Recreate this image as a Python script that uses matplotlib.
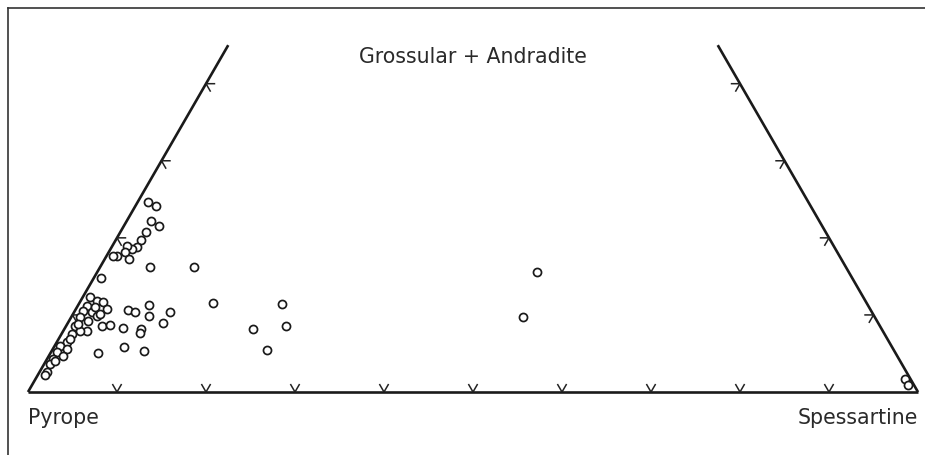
import numpy as np
import matplotlib
matplotlib.use("Agg")
import matplotlib.pyplot as plt

# garnet compositions, mol % (Grossular+Andradite, Spessartine); Pyrope = rest
grs_adr = [24.6, 24.1, 22.2, 21.5, 20.8, 19.7, 18.8, 18.6, 18.9, 18.2,
           17.3, 17.6, 17.6, 16.2, 16.2, 14.8, 12.3, 11.8, 11.7, 11.2,
           10.8, 10.5, 10.4, 9.9, 9.7, 9.2, 8.6, 8.7, 8.6, 7.9,
           7.9, 7.5, 6.5, 6.0, 5.6, 5.2, 4.7, 4.3, 3.6, 2.6,
           2.2, 10.6, 10.4, 11.3, 9.9, 10.4, 9.0, 8.3, 8.2, 7.7,
           11.6, 11.4, 8.6, 8.2, 5.5, 5.8, 5.3, 5.1, 15.6, 9.7,
           1.7, 0.9, 8.8, 11.0, 10.1, 6.9, 4.0]
spess = [1.2, 2.3, 2.7, 4.0, 2.9, 2.9, 2.8, 2.4, 1.7, 1.8,
         2.7, 1.2, 0.8, 5.6, 10.6, 0.8, 0.8, 1.9, 2.6, 1.0,
         3.5, 0.9, 2.0, 2.8, 1.0, 2.1, 4.0, 4.9, 1.0, 2.7,
         1.9, 1.2, 1.1, 0.6, 1.6, 0.7, 1.6, 0.7, 0.7, 0.8,
         0.8, 5.9, 6.8, 8.0, 8.6, 10.8, 10.7, 6.5, 8.6, 8.7,
         15.0, 22.8, 24.7, 21.2, 24.1, 7.9, 10.4, 5.3, 49.4, 50.8,
         97.7, 98.4, 1.2, 2.0, 3.0, 1.3, 1.0]

tick_values = [10, 20, 30, 40, 50, 60, 70, 80, 90]
side_ticks = [10, 20, 30, 40]
g_max = 45  # top of the truncated triangle

end_labels = ["Pyrope", "Spessartine"]
top_label = "Grossular + Andradite"

h = np.sqrt(3) / 2


def to_xy(g, s):
    g = np.asarray(g) / 100.0
    s = np.asarray(s) / 100.0
    return s + g / 2, g * h


fig = plt.figure(figsize=(9.25, 4.56), dpi=100)
ax = fig.add_axes([0, 0, 1, 1])
ax.set_xlim(-28 / 890, 897 / 890)
ax.set_ylim(-63 / 890, 393 / 890)
ax.axis("off")

lw = 1.9
# triangle sides
xl, yl = to_xy([0, g_max], [0, 0])
xr, yr = to_xy([0, g_max], [100, 100 - g_max])
ax.plot(xl, yl, color="#1a1a1a", lw=lw, solid_capstyle="butt")
ax.plot(xr, yr, color="#1a1a1a", lw=lw, solid_capstyle="butt")
ax.plot([0, 1], [0, 0], color="#1a1a1a", lw=lw, solid_capstyle="butt")

# chevron ticks
L = 0.0095
for t in tick_values:
    x0, y0 = to_xy(0, t)
    ax.plot([x0 - L * 0.5, x0, x0 + L * 0.5], [y0 + L * h, y0, y0 + L * h],
            color="#222222", lw=1.1)
for t in side_ticks:
    x0, y0 = to_xy(t, 0)
    ax.plot([x0 + L, x0, x0 + L * 0.5], [y0, y0, y0 - L * h],
            color="#222222", lw=1.1)
    x0, y0 = to_xy(t, 100 - t)
    ax.plot([x0 - L, x0, x0 - L * 0.5], [y0, y0, y0 - L * h],
            color="#222222", lw=1.1)

# data
px, py = to_xy(grs_adr, spess)
ax.plot(px, py, "o", ms=5.8, mfc="white", mec="#1a1a1a", mew=1.25,
        linestyle="none", zorder=5)

# labels
fs = 14.8
ax.text(0.0, -15 / 890, end_labels[0], ha="left", va="top",
        fontsize=fs, color="#2a2a2a")
ax.text(1.0, -15 / 890, end_labels[1], ha="right", va="top",
        fontsize=fs, color="#2a2a2a")
ax.text(0.5, 336 / 890, top_label, ha="center", va="center",
        fontsize=fs, color="#2a2a2a")

# scanned page frame
fig.add_artist(plt.Line2D([8 / 925, 8 / 925], [0, 1 - 9 / 456],
                          transform=fig.transFigure, color="#333333", lw=1.2))
fig.add_artist(plt.Line2D([8 / 925, 1], [1 - 9 / 456, 1 - 9 / 456],
                          transform=fig.transFigure, color="#333333", lw=1.2))

fig.savefig("out.png", dpi=100)
